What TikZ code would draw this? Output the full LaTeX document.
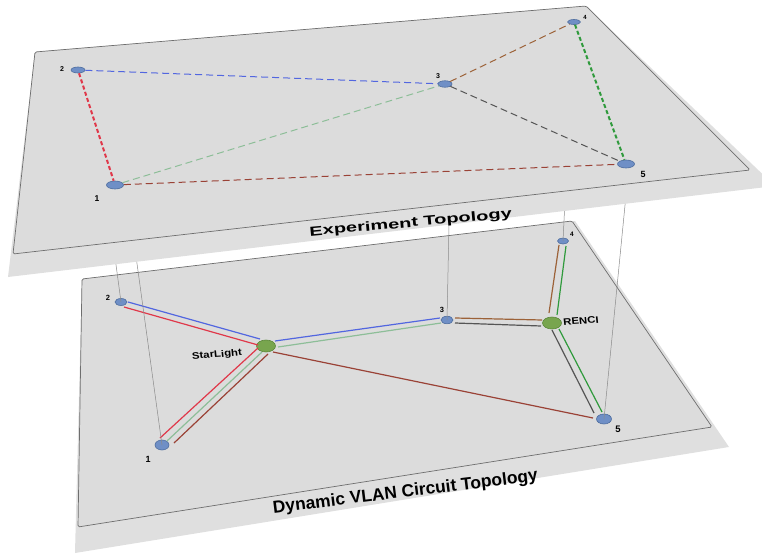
\documentclass[tikz,border=0pt]{standalone}
\usepackage{fontspec}
\setmainfont{Liberation Sans}
\usetikzlibrary{shapes.geometric}

\definecolor{planefill}{HTML}{DCDCDC}
\definecolor{shadowfill}{HTML}{DFDFDF}
\definecolor{planeline}{HTML}{6E6E6E}
\definecolor{nodeblue}{HTML}{6F8FC6}
\definecolor{nodeblueline}{HTML}{4E6D9E}
\definecolor{nodegreen}{HTML}{78A54E}
\definecolor{nodegreenline}{HTML}{5A8639}
\definecolor{lblue}{HTML}{5266E0}
\definecolor{lred}{HTML}{E0384A}
\definecolor{lltgreen}{HTML}{8DBE98}
\definecolor{ldkred}{HTML}{9A4236}
\definecolor{lbrown}{HTML}{9C6238}
\definecolor{lgray}{HTML}{555555}
\definecolor{lgreen}{HTML}{2F9A3C}
\definecolor{vline}{HTML}{8A8A8A}

\tikzset{
  plane/.style={fill=planefill, draw=planeline, line width=0.7pt, rounded corners=1.5pt},
  slab/.style={fill=shadowfill},
  bnode/.style={ellipse, fill=nodeblue, draw=nodeblueline, line width=0.6pt, inner sep=0pt},
  gnode/.style={ellipse, fill=nodegreen, draw=nodegreenline, line width=0.6pt, inner sep=0pt},
  num/.style={font=\bfseries\fontsize{#1}{#1}\selectfont, inner sep=0pt},
  tdash/.style={line width=1pt, dash pattern=on 7pt off 4pt},
  tdashthick/.style={line width=2pt, dash pattern=on 4pt off 2.5pt},
  circ/.style={line width=1.2pt},
  vconn/.style={draw=vline, line width=0.5pt},
  title/.style={font=\bfseries\fontsize{#1}{#1}\selectfont, inner sep=0pt, anchor=base},
  sitelabel/.style={font=\bfseries\fontsize{9.5}{10}\selectfont, inner sep=0pt, xscale=1.2, rotate=5}
}

\begin{document}
\begin{tikzpicture}[x=1pt, y=-1pt]
\useasboundingbox (0,0) rectangle (762,556);
\clip (0,0) rectangle (762,556);

% ---------- bottom plane ----------
\fill[slab] (82,279) -- (575,221) -- (729,447) -- (75,553) -- cycle;
\draw[plane] (82,279) -- (572,221) -- (712,427) -- (78,527) -- cycle;

% bottom nodes
\node[bnode, minimum width=12pt, minimum height=7pt] (b2) at (121,302) {};
\node[bnode, minimum width=14pt, minimum height=10pt] (b1) at (162,445) {};
\node[gnode, minimum width=19pt, minimum height=12pt] (sl) at (266,346) {};
\node[bnode, minimum width=12pt, minimum height=7.5pt] (b3) at (447,320) {};
\node[gnode, minimum width=19pt, minimum height=12pt] (rc) at (552,323) {};
\node[bnode, minimum width=11pt, minimum height=6pt] (b4) at (563,241) {};
\node[bnode, minimum width=15pt, minimum height=10pt] (b5) at (604,419) {};

% bottom circuits
\draw[circ, lblue] ([shift={(7,0)}]b2.center) -- ([shift={(-6,-7)}]sl.center);
\draw[circ, lred] ([shift={(3,5)}]b2.center) -- ([shift={(-8,-1)}]sl.center);
\draw[circ, lred] ([shift={(-2,-7)}]b1.center) -- ([shift={(-8,2)}]sl.center);
\draw[circ, lltgreen] ([shift={(5,-4)}]b1.center) -- ([shift={(-4,6)}]sl.center);
\draw[circ, ldkred] ([shift={(12,-2)}]b1.center) -- ([shift={(2,8)}]sl.center);
\draw[circ, lblue] ([shift={(9,-5)}]sl.center) -- ([shift={(-7,-2)}]b3.center);
\draw[circ, lltgreen] ([shift={(12,1)}]sl.center) -- ([shift={(-6,3)}]b3.center);
\draw[circ, ldkred] ([shift={(7,6)}]sl.center) -- ([shift={(-11,-1)}]b5.center);
\draw[circ, lbrown] ([shift={(8,-2)}]b3.center) -- ([shift={(-10,-3)}]rc.center);
\draw[circ, lgray] ([shift={(8,3)}]b3.center) -- ([shift={(-11,3)}]rc.center);
\draw[circ, lbrown] ([shift={(-3,-10)}]rc.center) -- ([shift={(-4,4)}]b4.center);
\draw[circ, lgreen] ([shift={(5,-8)}]rc.center) -- ([shift={(3,5)}]b4.center);
\draw[circ, lgray] ([shift={(0,7)}]rc.center) -- ([shift={(-10,-6)}]b5.center);
\draw[circ, lgreen] ([shift={(7,6)}]rc.center) -- ([shift={(-2,-7)}]b5.center);

% bottom labels
\node[num=7.5] (lb2) at (108,298) {2};
\node[num=9] (lb1) at (148,459) {1};
\node[num=7.5] (lb3) at (442,310) {3};
\node[num=6.5] (lb4) at (572,234) {4};
\node[num=9.5] (lb5) at (618,429) {5};
\node[sitelabel] (lsl) at (217,355) {StarLight};
\node[sitelabel] (lrc) at (581,321) {RENCI};

% vertical connectors (upper ends hidden under the top plane)
\coordinate (u1) at (131,220);
\coordinate (u2) at (110,220);
\coordinate (u3) at (449.5,200);
\coordinate (u4) at (565,200);
\coordinate (u5) at (627,185);
\draw[vconn] (u1) -- (b1.center);
\draw[vconn] (u2) -- (b2.center);
\draw[vconn] (u3) -- (b3.center);
\draw[vconn] (u4) -- (b4.center);
\draw[vconn] (u5) -- (b5.center);

% bottom title
\node[title=17.4, rotate=7] (tb) at (406,497) {Dynamic VLAN Circuit Topology};

% ---------- top plane ----------
\fill[slab] (35,52) -- (586,6) -- (775,186) -- (8,277) -- cycle;
\draw[plane] (35,52) -- (586,6) -- (750,170) -- (13,254) -- cycle;

% top nodes
\node[bnode, minimum width=14pt, minimum height=6pt] (t2) at (78,70) {};
\node[bnode, minimum width=17pt, minimum height=8pt] (t1) at (115,185) {};
\node[bnode, minimum width=14pt, minimum height=6.5pt] (t3) at (445,84) {};
\node[bnode, minimum width=13pt, minimum height=5pt] (t4) at (574,22) {};
\node[bnode, minimum width=17pt, minimum height=8pt] (t5) at (626,164) {};

% top (experiment) links
\draw[tdash, lblue] (t2) -- (t3);
\draw[tdash, lltgreen] (t1) -- (t3);
\draw[tdash, ldkred] (t1) -- (t5);
\draw[tdash, lbrown] (t3) -- (t4);
\draw[tdash, lgray] (t3) -- (t5);
\draw[tdashthick, lred] (t2) -- (t1);
\draw[tdashthick, lgreen] (t4) -- (t5);

% top labels
\node[num=7] (lt2) at (62,69) {2};
\node[num=8.5] (lt1) at (97,199) {1};
\node[num=7] (lt3) at (438,76) {3};
\node[num=6] (lt4) at (585,17) {4};
\node[num=9] (lt5) at (643,174) {5};

% top title
\node[title=20, rotate=5.2, yscale=0.66] (tt) at (411,227) {Experiment Topology};
\end{tikzpicture}
\end{document}
